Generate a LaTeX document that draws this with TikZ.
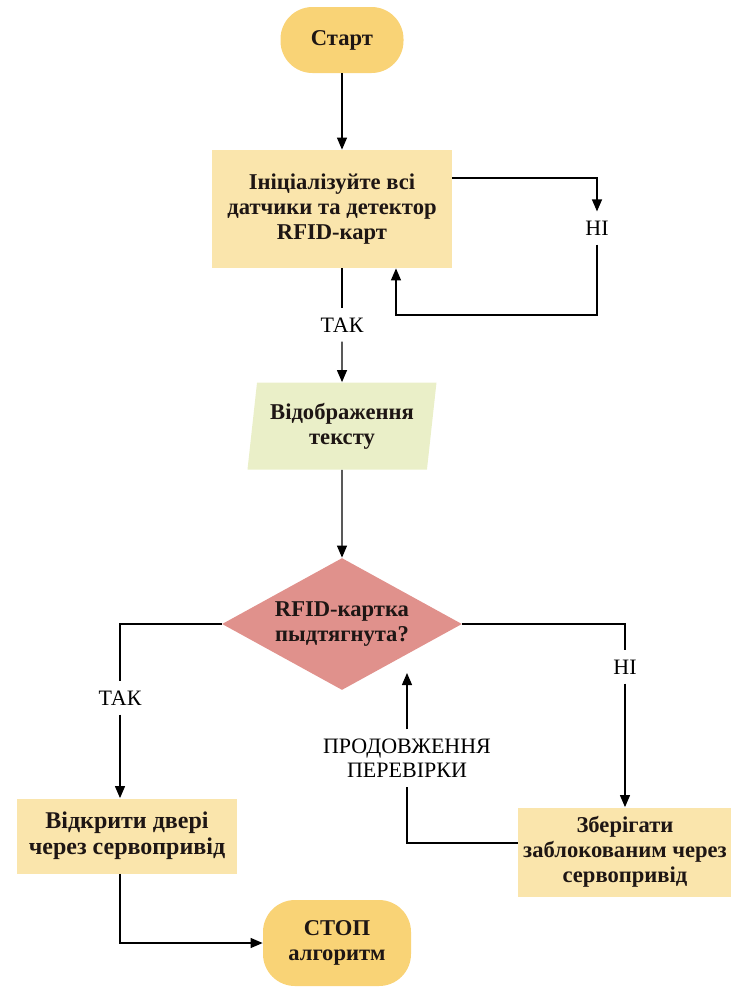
\documentclass[tikz,border=0pt]{standalone}
\usepackage{fontspec}
\setmainfont{Liberation Serif}
\usetikzlibrary{arrows.meta, positioning, calc, shapes.geometric}
\definecolor{termc}{RGB}{249,211,118}
\definecolor{procc}{RGB}{250,229,172}
\definecolor{ioc}{RGB}{234,239,200}
\definecolor{condc}{RGB}{224,145,140}
\definecolor{txtc}{RGB}{30,22,20}
\tikzset{
  shp/.style={fill=#1, align=center, text=txtc, inner sep=2pt,
              font=\fontsize{11.3}{12.5}\selectfont\bfseries},
  term/.style={shp=termc, rounded corners=16pt},
  proc/.style={shp=procc},
  io/.style={shp=ioc, trapezium, trapezium left angle=80,
             trapezium right angle=100, trapezium stretches body=true},
  cond/.style={shp=condc, diamond, inner sep=0pt, aspect=1.8},
  lbl/.style={align=center, inner xsep=2pt, inner ysep=4.5pt,
              font=\fontsize{11}{12}\selectfont},
  ln/.style={line width=0.6pt},
  sig/.style={ln, -{Triangle[length=6pt,width=5pt]}},
}

\begin{document}
\begin{tikzpicture}[x=0.5pt, y=-0.5pt]
  \useasboundingbox (0,0) rectangle (731,987);
  \node[term, minimum width=61.5pt, minimum height=33pt] (start) at (342,40) {Старт};
  \node[proc, minimum width=120pt, minimum height=59pt] (init) at (332,209)
    {Ініціалізуйте всі\\датчики та детектор\\RFID-карт};
  \node[io, minimum width=94.5pt, minimum height=43.5pt] (disp) at (342,426)
    {Відображення\\тексту};
  \node[cond, minimum width=120pt, minimum height=66pt] (chk) at (342,624)
    {RFID-картка\\пыдтягнута?};
  \node[proc, minimum width=110pt, minimum height=37.5pt,
        font=\fontsize{12}{12.8}\selectfont\bfseries] (open) at (127,836)
    {Відкрити двері\\через сервопривід};
  \node[proc, minimum width=107pt, minimum height=44.5pt] (lock) at (625,852)
    {Зберігати\\заблокованим через\\сервопривід};
  \node[term, minimum width=74pt, minimum height=43pt] (stop) at (337,943)
    {СТОП\\алгоритм};
  \node[lbl] (no1)  at (597,228) {НІ};
  \node[lbl] (yes1) at (342,325) {ТАК};
  \node[lbl] (yes2) at (120,698) {ТАК};
  \node[lbl] (no2)  at (625,667) {НІ};
  \node[lbl] (cont) at (407,758) {ПРОДОВЖЕННЯ\\ПЕРЕВІРКИ};
  \coordinate (back1) at (396,315);
  \coordinate (back2) at (407,673);
  \draw[sig] (start) -- (start |- init.north);
  \draw[sig] ([yshift=15.5pt]init.east) -| (no1);
  \draw[sig] (no1) |- (back1) -- (back1 |- init.south);
  \draw[ln]  (start |- init.south) -- (yes1);
  \draw[sig] (yes1) -- (disp);
  \draw[sig] (disp) -- (chk);
  \draw[ln]  (chk.west) -| (yes2);
  \draw[sig] (yes2) -- (yes2 |- open.north);
  \draw[ln]  (chk.east) -| (no2);
  \draw[sig] (no2) -- (lock);
  \draw[ln]  ([yshift=4.5pt]lock.west) -| (cont);
  \draw[sig] (cont) -- (back2);
  \draw[sig] (yes2 |- open.south) |- (stop);
\end{tikzpicture}
\end{document}
